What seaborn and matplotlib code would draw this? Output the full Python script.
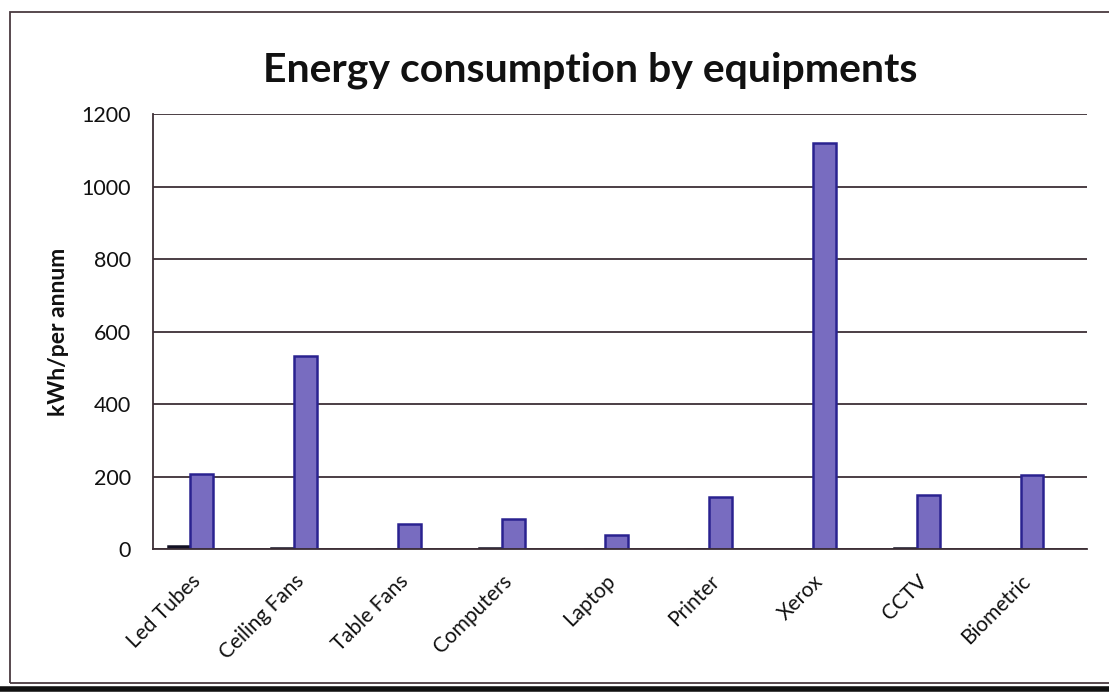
import matplotlib
matplotlib.use("Agg")
import matplotlib.pyplot as plt
import seaborn as sns
import pandas as pd
from matplotlib.patches import Rectangle
from matplotlib.lines import Line2D

# Equipment categories and their readings
categories = ["Led Tubes", "Ceiling Fans", "Table Fans", "Computers", "Laptop",
              "Printer", "Xerox", "CCTV", "Biometric"]
rated_load = [8, 4, 0, 2, 0, 1, 1, 2, 1]
energy_kwh = [208, 532, 68, 82, 38, 143, 1120, 148, 203]
y_ticks = [0, 200, 400, 600, 800, 1000, 1200]

series_names = ["Rated load", "Energy"]
df = pd.DataFrame({
    "equipment": categories * 2,
    "value": rated_load + energy_kwh,
    "series": [series_names[0]] * len(categories) + [series_names[1]] * len(categories),
})

sns.set_theme(style="white")
plt.rcParams["font.family"] = ["Lato", "DejaVu Sans"]

W, H = 1109, 693
fig = plt.figure(figsize=(W / 100, H / 100), dpi=100)
ax = fig.add_axes([153 / W, 1 - 549 / H, (1087 - 153) / W, (549 - 114) / H])

fills = {"Rated load": "#1c1838", "Energy": "#786cc0"}
edges = {"Rated load": "#111022", "Energy": "#2a2290"}
sns.barplot(data=df, x="equipment", y="value", hue="series", order=categories,
            hue_order=series_names, palette=fills, width=0.44, dodge=True,
            legend=False, ax=ax, saturation=1)

for cont, name in zip(ax.containers, series_names):
    for p in cont:
        p.set_edgecolor(edges[name])
        p.set_linewidth(1.8)

ax.set_ylim(0, 1200)
ax.set_xlim(-0.36, len(categories) - 0.36)
ax.set_yticks(y_ticks)
ax.yaxis.grid(True, color="#3d2f36", linewidth=1.3)
ax.set_axisbelow(True)
for side in ["top", "right"]:
    ax.spines[side].set_visible(False)
for side in ["left", "bottom"]:
    ax.spines[side].set_color("#3d2f36")
    ax.spines[side].set_linewidth(1.3)

ax.tick_params(axis="both", length=0, labelsize=15.5, colors="#111111")
ax.tick_params(axis="y", pad=16)
ax.tick_params(axis="x", pad=16)
for lab in ax.get_xticklabels():
    lab.set_rotation(45)
    lab.set_ha("right")
    lab.set_rotation_mode("anchor")
    lab.set_fontsize(15)

ax.set_xlabel("")
ax.set_ylabel("kWh/per annum", fontsize=16.5, fontweight="bold", labelpad=9, color="#111111")

fig.text(590 / W, 1 - 70 / H, "Energy consumption by equipments", ha="center", va="center",
         fontsize=29.5, fontweight="bold", color="#111111")

# chart-area border and page edge
fig.add_artist(Rectangle((10 / W, 1 - 683 / H), 1.2, (683 - 12) / H, transform=fig.transFigure,
                         fill=False, edgecolor="#4a3a40", linewidth=1.3))
fig.add_artist(Line2D([0, 1], [1 - 689 / H] * 2, transform=fig.transFigure,
                      color="#111111", linewidth=4))

fig.savefig("out.png", dpi=100, facecolor="white")
